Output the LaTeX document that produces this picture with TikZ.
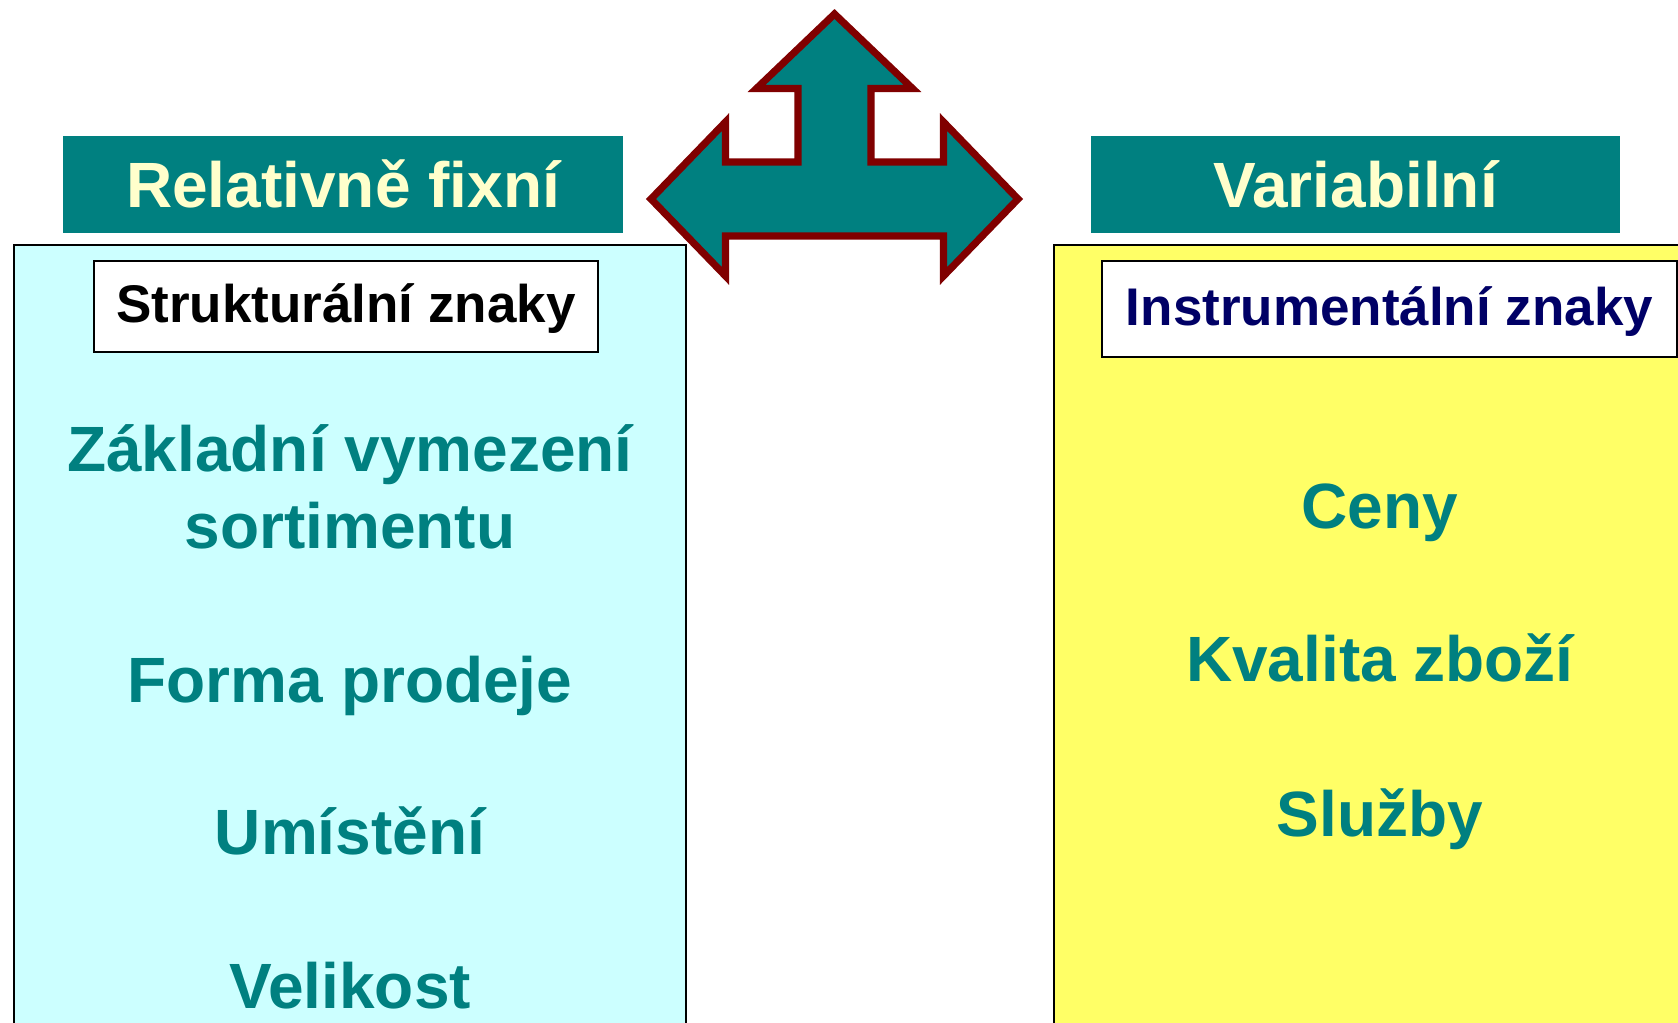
\documentclass[tikz,border=0pt]{standalone}
\usepackage{fontspec}
\setmainfont{Liberation Sans}
\definecolor{tealbg}{HTML}{008080}
\definecolor{creamtext}{HTML}{FFFFCC}
\definecolor{cyanbg}{HTML}{CCFFFF}
\definecolor{yellowbg}{HTML}{FFFF66}
\definecolor{navytext}{HTML}{000066}
\definecolor{arrowred}{HTML}{800000}
\begin{document}
\begin{tikzpicture}[x=0.5pt, y=-0.5pt,
    header/.style={fill=tealbg, text=creamtext, inner sep=0pt, minimum height=48.5pt,
      font=\fontsize{32}{38}\selectfont\bfseries, text height=23pt, text depth=0pt},
    tagbox/.style={draw=black, line width=1pt, fill=white, inner sep=0pt,
      font=\fontsize{26.5}{32}\selectfont\bfseries, text height=19pt, text depth=2.7pt},
    item/.style={text=tealbg, anchor=base, align=center, inner sep=0pt,
      font=\fontsize{32}{38.5}\selectfont\bfseries}]
  \useasboundingbox (0,0) rectangle (1678,1023);
  \clip (0,0) rectangle (1678,1023);
  \draw [fill=cyanbg, line width=1pt] (14,245) rectangle (686,1040);
  \draw [fill=yellowbg, line width=1pt] (1054,245) rectangle (1690,1040);
  \node [header, minimum width=280pt] (fixni) at (343,184.5) {Relativně fixní};
  \node [header, minimum width=264.5pt] (variabilni) at (1355.5,184.5) {Variabilní};
  \node [tagbox, minimum width=252pt, minimum height=45.5pt] (struktura) at (346,306.5) {Strukturální znaky};
  \node [tagbox, text=navytext, minimum width=287.5pt, minimum height=48pt] (nastroje) at (1389.5,309) {Instrumentální znaky};
  \node [item] (sortiment) at (350,548) {Základní vymezení\\sortimentu};
  \node [item] (forma) at (350,702) {Forma prodeje};
  \node [item] (umisteni) at (350,854) {Umístění};
  \node [item] (velikost) at (350,1008) {Velikost};
  \node [item] (ceny) at (1380,528) {Ceny};
  \node [item] (kvalita) at (1380,681) {Kvalita zboží};
  \node [item] (sluzby) at (1380,836) {Služby};
  \draw [arrowred, fill=tealbg, line width=3.6pt]
    (834.5,14) -- (912.5,88.5) -- (871,88.5) -- (871,162) -- (943.5,162) -- (943.5,122)
    -- (1018,199) -- (943.5,276) -- (943.5,236) -- (725.5,236) -- (725.5,276)
    -- (651,199) -- (725.5,122) -- (725.5,162) -- (798,162) -- (798,88.5)
    -- (756.5,88.5) -- cycle;
\end{tikzpicture}
\end{document}
